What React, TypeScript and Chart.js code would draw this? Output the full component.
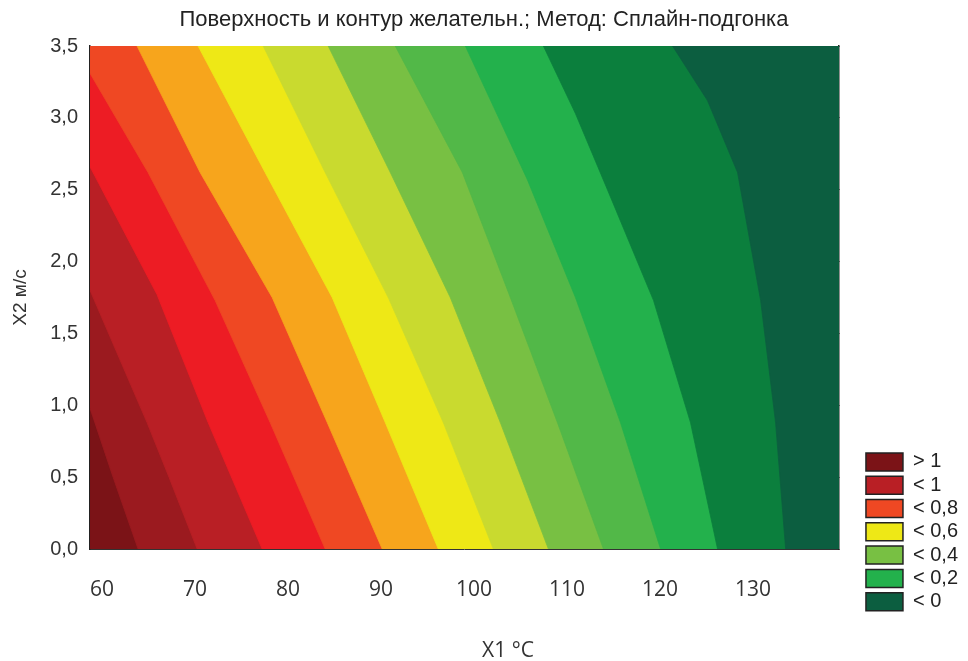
import { useEffect, useRef } from 'react';
import { Chart, registerables } from 'chart.js';

Chart.register(...registerables);

// ---- axes ----
const X_MIN = 58.7;
const X_MAX = 139.2;
const Y_MIN = 0;
const Y_MAX = 3.5;
const X_TICKS = [60, 70, 80, 90, 100, 110, 120, 130];
const Y_TICKS = [0, 0.5, 1, 1.5, 2, 2.5, 3, 3.5];
const Y_TICK_LABELS = ['0,0', '0,5', '1,0', '1,5', '2,0', '2,5', '3,0', '3,5'];

// ---- contour bands (left = highest desirability, right = lowest) ----
const BAND_COLORS = [
  '#7b1317', '#9b1a1f', '#b91f25', '#ed1c24', '#ef4823', '#f7a51c', '#eee816',
  '#c9da2f', '#78c043', '#52b848', '#23b14c', '#0b7f3d', '#0c5e40',
];
const LEGEND_LABELS = ['> 1', '< 1', '< 0,8', '< 0,6', '< 0,4', '< 0,2', '< 0'];
const LEGEND_BANDS = [0, 2, 4, 6, 8, 10, 12];

// contour lines between bands, [X1, X2] from bottom edge upward
const BOUNDARY_01 = [[63.87, 0], [61.18, 0.5], [58.7, 0.98]];
const BOUNDARY_02 = [[70.22, 0], [67.19, 0.5], [64.83, 0.88], [58.7, 1.8]];
const BOUNDARY_03 = [[77.21, 0], [71.4, 0.88], [65.91, 1.77], [58.7, 2.66]];
const BOUNDARY_04 = [[83.99, 0], [78.07, 0.88], [72.15, 1.73], [64.94, 2.62], [58.7, 3.31]];
const BOUNDARY_05 = [[90.12, 0], [84.21, 0.88], [78.29, 1.75], [70.54, 2.62], [63.76, 3.5]];
const BOUNDARY_06 = [[96.15, 0], [90.45, 0.88], [84.74, 1.75], [77.53, 2.62], [70.32, 3.5]];
const BOUNDARY_07 = [[102.07, 0], [96.69, 0.88], [90.77, 1.75], [83.99, 2.62], [77.32, 3.5]];
const BOUNDARY_08 = [[107.99, 0], [102.82, 0.88], [97.44, 1.75], [90.99, 2.62], [84.31, 3.5]];
const BOUNDARY_09 = [[113.91, 0], [108.96, 0.88], [103.9, 1.75], [98.74, 2.62], [91.52, 3.5]];
const BOUNDARY_10 = [[120.05, 0], [115.74, 0.88], [110.9, 1.75], [105.73, 2.57], [102.07, 3.08], [99.06, 3.5]];
const BOUNDARY_11 = [[126.18, 0], [123.27, 0.88], [119.29, 1.73], [114.34, 2.5], [110.9, 3.03], [107.45, 3.5]];
const BOUNDARY_12 = [[133.5, 0], [132.42, 0.88], [130.81, 1.73], [128.33, 2.62], [125.1, 3.12], [121.34, 3.5]];

const BOUNDARIES = [
  BOUNDARY_01, BOUNDARY_02, BOUNDARY_03, BOUNDARY_04, BOUNDARY_05, BOUNDARY_06,
  BOUNDARY_07, BOUNDARY_08, BOUNDARY_09, BOUNDARY_10, BOUNDARY_11, BOUNDARY_12,
];

const TITLE = 'Поверхность и контур желательн.; Метод: Сплайн-подгонка';
const X_TITLE = 'X1 °C';
const Y_TITLE = 'X2 м/с';

function regionRightOf(boundary: number[][]) {
  const pts = boundary.map(([x, y]) => ({ x, y }));
  const last = boundary[boundary.length - 1];
  if (last[1] < Y_MAX) pts.push({ x: X_MIN, y: Y_MAX });
  pts.push({ x: X_MAX, y: Y_MAX }, { x: X_MAX, y: Y_MIN });
  return pts;
}

const fullArea = [
  { x: X_MIN, y: Y_MIN }, { x: X_MIN, y: Y_MAX }, { x: X_MAX, y: Y_MAX }, { x: X_MAX, y: Y_MIN },
];

const FONT_MAIN = 'Liberation Sans, Arial, sans-serif';
const FONT_X = 'Open Sans, sans-serif';

const legendBottomPlugin = {
  id: 'legendBottom',
  afterLayout(chart: any) {
    const lg = chart.legend;
    if (lg) {
      lg.bottom = 615;
      lg.height = lg.bottom - lg.top;
    }
  },
};

export default function App() {
  const ref = useRef<HTMLCanvasElement>(null);

  useEffect(() => {
    if (!ref.current) return;
    const datasets = BAND_COLORS.map((color, k) => ({
      label: LEGEND_BANDS.includes(k) ? LEGEND_LABELS[LEGEND_BANDS.indexOf(k)] : 'band ' + k,
      data: k === 0 ? fullArea : regionRightOf(BOUNDARIES[k - 1]),
      backgroundColor: color,
      borderColor: color,
      borderWidth: 0.8,
      pointRadius: 0,
      tension: 0,
      fill: 'shape',
      order: BAND_COLORS.length - k,
    }));

    const tickGrid = {
      drawOnChartArea: false,
      drawTicks: true,
      tickLength: -5,
      color: '#111',
      lineWidth: 1,
    };
    const noGrid = { drawOnChartArea: false, drawTicks: false };
    const border = { display: true, color: '#333', width: 1 };

    const chart = new Chart(ref.current, {
      type: 'line',
      data: { datasets: datasets as any },
      plugins: [legendBottomPlugin],
      options: {
        animation: false,
        responsive: true,
        maintainAspectRatio: false,
        events: [],
        layout: { padding: 0 },
        plugins: {
          tooltip: { enabled: false },
          title: {
            display: true,
            text: TITLE,
            color: '#222',
            font: { family: FONT_MAIN, size: 22, weight: 'normal' },
            padding: { top: 7, bottom: 12.6 },
          },
          legend: {
            position: 'right',
            align: 'end',
            onClick: () => {},
            labels: {
              boxWidth: 37,
              boxHeight: 18,
              padding: 3.3,
              color: '#222',
              font: { family: FONT_MAIN, size: 20 },
              generateLabels: () =>
                LEGEND_BANDS.map((b, i) => ({
                  text: LEGEND_LABELS[i],
                  fillStyle: BAND_COLORS[b],
                  strokeStyle: '#222',
                  lineWidth: 1.5,
                  hidden: false,
                  datasetIndex: b,
                  fontColor: '#222',
                })),
            },
          },
        },
        scales: {
          x: {
            type: 'linear',
            position: 'bottom',
            min: X_MIN,
            max: X_MAX,
            afterBuildTicks: (axis: any) => {
              axis.ticks = X_TICKS.map((v) => ({ value: v }));
            },
            afterFit: (scale: any) => {
              scale.height = 112;
            },
            ticks: {
              color: '#333',
              padding: 28,
              font: { family: FONT_X, size: 21 },
              callback: (v: any) => String(v),
            },
            grid: noGrid,
            border,
            title: {
              display: true,
              text: '\u00a0'.repeat(16) + X_TITLE,
              color: '#333',
              font: { family: FONT_X, size: 21 },
              padding: { top: 0, bottom: -3 },
            },
          },
          x2: {
            type: 'linear',
            position: 'top',
            min: X_MIN,
            max: X_MAX,
            ticks: { display: false },
            grid: noGrid,
            border: { display: true, color: '#777', width: 1 },
            afterFit: (scale: any) => {
              scale.height = 0;
            },
          },
          y: {
            type: 'linear',
            position: 'left',
            min: Y_MIN,
            max: Y_MAX,
            afterBuildTicks: (axis: any) => {
              axis.ticks = Y_TICKS.map((v) => ({ value: v }));
            },
            afterFit: (scale: any) => {
              scale.width = 90;
            },
            ticks: {
              color: '#333',
              padding: 17,
              font: { family: FONT_MAIN, size: 20 },
              callback: (_v: any, i: number) => Y_TICK_LABELS[i],
            },
            grid: tickGrid,
            border: { display: true, color: '#222', width: 1.5 },
            title: {
              display: true,
              text: Y_TITLE,
              color: '#333',
              font: { family: FONT_MAIN, size: 19 },
              padding: { top: 9, bottom: 0 },
            },
          },
          y2: {
            type: 'linear',
            position: 'right',
            min: Y_MIN,
            max: Y_MAX,
            afterBuildTicks: (axis: any) => {
              axis.ticks = Y_TICKS.map((v) => ({ value: v }));
            },
            afterFit: (scale: any) => {
              scale.width = 24;
            },
            ticks: { display: false },
            grid: tickGrid,
            border: { display: true, color: '#222', width: 1.5 },
          },
        },
      } as any,
    });
    return () => chart.destroy();
  }, []);

  return (
    <div style={{ position: 'absolute', left: 0, top: 0, width: 968, height: 661 }}>
      <canvas ref={ref} />
    </div>
  );
}
